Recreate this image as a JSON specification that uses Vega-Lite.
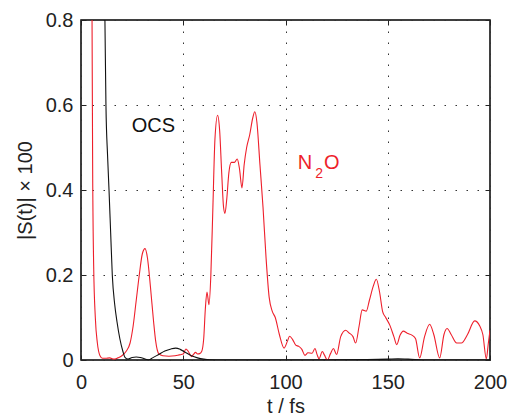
{
  "$schema": "https://vega.github.io/schema/vega-lite/v6.json",
  "autosize": {"type": "none"},
  "width": 409,
  "height": 340,
  "padding": {"left": 81, "top": 20, "right": 18, "bottom": 55},
  "background": "white",
  "config": {
    "view": {"stroke": "black", "strokeWidth": 1.5},
    "font": "Liberation Sans",
    "axis": {
      "domain": false,
      "labelFont": "Liberation Sans",
      "labelFontSize": 20,
      "labelColor": "#222",
      "titleFont": "Liberation Sans",
      "titleFontSize": 20,
      "titleFontWeight": "normal",
      "titleColor": "#222",
      "tickColor": "#222",
      "tickSize": -5,
      "tickWidth": 1,
      "gridColor": "#333",
      "gridDash": [1.5, 9.5],
      "gridWidth": 1,
      "gridOpacity": 1
    }
  },
  "datasets": {
    "curves": [
      {"s": "N2O", "t": 5.0, "v": 1.3},
      {"s": "N2O", "t": 5.4, "v": 0.8},
      {"s": "N2O", "t": 5.7, "v": 0.45},
      {"s": "N2O", "t": 6.2, "v": 0.22},
      {"s": "N2O", "t": 7.0, "v": 0.1},
      {"s": "N2O", "t": 8.0, "v": 0.04},
      {"s": "N2O", "t": 9.3, "v": 0.01},
      {"s": "N2O", "t": 10.5, "v": 0.004},
      {"s": "N2O", "t": 12, "v": 0.004},
      {"s": "N2O", "t": 14, "v": 0.005},
      {"s": "N2O", "t": 16, "v": 0.002},
      {"s": "N2O", "t": 18, "v": 0.005},
      {"s": "N2O", "t": 20, "v": 0.01},
      {"s": "N2O", "t": 22, "v": 0.02},
      {"s": "N2O", "t": 24, "v": 0.04},
      {"s": "N2O", "t": 25.5, "v": 0.08},
      {"s": "N2O", "t": 27, "v": 0.14},
      {"s": "N2O", "t": 28.5, "v": 0.2},
      {"s": "N2O", "t": 30, "v": 0.25},
      {"s": "N2O", "t": 31.3, "v": 0.262},
      {"s": "N2O", "t": 32.5, "v": 0.24},
      {"s": "N2O", "t": 34, "v": 0.17},
      {"s": "N2O", "t": 35.5, "v": 0.09},
      {"s": "N2O", "t": 36.5, "v": 0.045},
      {"s": "N2O", "t": 38, "v": 0.015},
      {"s": "N2O", "t": 40, "v": 0.01},
      {"s": "N2O", "t": 43, "v": 0.009},
      {"s": "N2O", "t": 46, "v": 0.01},
      {"s": "N2O", "t": 48, "v": 0.012},
      {"s": "N2O", "t": 50, "v": 0.014},
      {"s": "N2O", "t": 51.3, "v": 0.026},
      {"s": "N2O", "t": 52.5, "v": 0.02},
      {"s": "N2O", "t": 54, "v": 0.008},
      {"s": "N2O", "t": 55, "v": 0.013},
      {"s": "N2O", "t": 56, "v": 0.018},
      {"s": "N2O", "t": 57, "v": 0.014},
      {"s": "N2O", "t": 58, "v": 0.015},
      {"s": "N2O", "t": 59, "v": 0.02},
      {"s": "N2O", "t": 60, "v": 0.05},
      {"s": "N2O", "t": 60.8, "v": 0.12},
      {"s": "N2O", "t": 61.6, "v": 0.16},
      {"s": "N2O", "t": 62.6, "v": 0.13},
      {"s": "N2O", "t": 63.5, "v": 0.2},
      {"s": "N2O", "t": 64.5, "v": 0.36},
      {"s": "N2O", "t": 65.5, "v": 0.52},
      {"s": "N2O", "t": 66.8, "v": 0.576},
      {"s": "N2O", "t": 67.8, "v": 0.54},
      {"s": "N2O", "t": 68.8, "v": 0.44},
      {"s": "N2O", "t": 69.7, "v": 0.36},
      {"s": "N2O", "t": 70.4, "v": 0.345},
      {"s": "N2O", "t": 71.3, "v": 0.38},
      {"s": "N2O", "t": 72.3, "v": 0.44},
      {"s": "N2O", "t": 73.5, "v": 0.465},
      {"s": "N2O", "t": 75, "v": 0.465},
      {"s": "N2O", "t": 76.4, "v": 0.473},
      {"s": "N2O", "t": 77.5, "v": 0.45},
      {"s": "N2O", "t": 78.7, "v": 0.405},
      {"s": "N2O", "t": 79.8, "v": 0.46},
      {"s": "N2O", "t": 81, "v": 0.5},
      {"s": "N2O", "t": 82.5, "v": 0.53},
      {"s": "N2O", "t": 84, "v": 0.57},
      {"s": "N2O", "t": 85, "v": 0.584},
      {"s": "N2O", "t": 86, "v": 0.56},
      {"s": "N2O", "t": 87.5, "v": 0.46},
      {"s": "N2O", "t": 89, "v": 0.36},
      {"s": "N2O", "t": 90.5, "v": 0.24},
      {"s": "N2O", "t": 92, "v": 0.148},
      {"s": "N2O", "t": 93.5, "v": 0.115},
      {"s": "N2O", "t": 95, "v": 0.1},
      {"s": "N2O", "t": 97, "v": 0.06},
      {"s": "N2O", "t": 99.3, "v": 0.028},
      {"s": "N2O", "t": 101, "v": 0.045},
      {"s": "N2O", "t": 102, "v": 0.056},
      {"s": "N2O", "t": 103.5, "v": 0.048},
      {"s": "N2O", "t": 105, "v": 0.035},
      {"s": "N2O", "t": 106.5, "v": 0.032},
      {"s": "N2O", "t": 108, "v": 0.025},
      {"s": "N2O", "t": 109.5, "v": 0.011},
      {"s": "N2O", "t": 111, "v": 0.017},
      {"s": "N2O", "t": 113, "v": 0.016},
      {"s": "N2O", "t": 114.4, "v": 0.027},
      {"s": "N2O", "t": 115.5, "v": 0.012},
      {"s": "N2O", "t": 116.4, "v": 0.003},
      {"s": "N2O", "t": 118, "v": 0.02},
      {"s": "N2O", "t": 119, "v": 0.012},
      {"s": "N2O", "t": 120.5, "v": 0.0},
      {"s": "N2O", "t": 122, "v": 0.015},
      {"s": "N2O", "t": 123.4, "v": 0.027},
      {"s": "N2O", "t": 125, "v": 0.013},
      {"s": "N2O", "t": 127, "v": 0.055},
      {"s": "N2O", "t": 129.4, "v": 0.07},
      {"s": "N2O", "t": 131, "v": 0.064},
      {"s": "N2O", "t": 133, "v": 0.055},
      {"s": "N2O", "t": 134.3, "v": 0.04},
      {"s": "N2O", "t": 136, "v": 0.08},
      {"s": "N2O", "t": 137.5, "v": 0.118},
      {"s": "N2O", "t": 139.5, "v": 0.115},
      {"s": "N2O", "t": 141, "v": 0.14},
      {"s": "N2O", "t": 143, "v": 0.175},
      {"s": "N2O", "t": 144.4, "v": 0.19},
      {"s": "N2O", "t": 146, "v": 0.16},
      {"s": "N2O", "t": 147.5, "v": 0.114},
      {"s": "N2O", "t": 149, "v": 0.1},
      {"s": "N2O", "t": 151, "v": 0.082},
      {"s": "N2O", "t": 153, "v": 0.055},
      {"s": "N2O", "t": 154.4, "v": 0.036},
      {"s": "N2O", "t": 156, "v": 0.058},
      {"s": "N2O", "t": 157.6, "v": 0.068},
      {"s": "N2O", "t": 159.5, "v": 0.063},
      {"s": "N2O", "t": 162, "v": 0.058},
      {"s": "N2O", "t": 163.6, "v": 0.05},
      {"s": "N2O", "t": 165.6, "v": 0.005},
      {"s": "N2O", "t": 168, "v": 0.055},
      {"s": "N2O", "t": 170.5, "v": 0.084},
      {"s": "N2O", "t": 172.5, "v": 0.06},
      {"s": "N2O", "t": 175.4, "v": 0.005},
      {"s": "N2O", "t": 177.5, "v": 0.06},
      {"s": "N2O", "t": 179, "v": 0.074},
      {"s": "N2O", "t": 181, "v": 0.06},
      {"s": "N2O", "t": 183.7, "v": 0.04},
      {"s": "N2O", "t": 186, "v": 0.04},
      {"s": "N2O", "t": 189, "v": 0.06},
      {"s": "N2O", "t": 192.5, "v": 0.092},
      {"s": "N2O", "t": 195, "v": 0.08},
      {"s": "N2O", "t": 196.5, "v": 0.06},
      {"s": "N2O", "t": 198.2, "v": 0.003},
      {"s": "N2O", "t": 199.2, "v": 0.04},
      {"s": "N2O", "t": 200, "v": 0.07},
      {"s": "OCS", "t": 10, "v": 1.5},
      {"s": "OCS", "t": 11, "v": 1.05},
      {"s": "OCS", "t": 11.7, "v": 0.8},
      {"s": "OCS", "t": 12.2, "v": 0.6},
      {"s": "OCS", "t": 13.0, "v": 0.48},
      {"s": "OCS", "t": 13.7, "v": 0.4},
      {"s": "OCS", "t": 14.5, "v": 0.3},
      {"s": "OCS", "t": 15.3, "v": 0.2},
      {"s": "OCS", "t": 16.5, "v": 0.13},
      {"s": "OCS", "t": 17.6, "v": 0.09},
      {"s": "OCS", "t": 19, "v": 0.05},
      {"s": "OCS", "t": 20.5, "v": 0.02},
      {"s": "OCS", "t": 21.5, "v": 0.006},
      {"s": "OCS", "t": 23, "v": 0.002},
      {"s": "OCS", "t": 25, "v": 0.006},
      {"s": "OCS", "t": 27, "v": 0.007},
      {"s": "OCS", "t": 29, "v": 0.006},
      {"s": "OCS", "t": 31, "v": 0.003},
      {"s": "OCS", "t": 33, "v": 0.0},
      {"s": "OCS", "t": 35, "v": 0.005},
      {"s": "OCS", "t": 38, "v": 0.013},
      {"s": "OCS", "t": 41, "v": 0.021},
      {"s": "OCS", "t": 44, "v": 0.026},
      {"s": "OCS", "t": 46.3, "v": 0.028},
      {"s": "OCS", "t": 48.5, "v": 0.025},
      {"s": "OCS", "t": 51, "v": 0.018},
      {"s": "OCS", "t": 54, "v": 0.01},
      {"s": "OCS", "t": 57, "v": 0.005},
      {"s": "OCS", "t": 60, "v": 0.002},
      {"s": "OCS", "t": 63, "v": 0.0005},
      {"s": "OCS", "t": 70, "v": 0},
      {"s": "OCS", "t": 100, "v": 0},
      {"s": "OCS", "t": 140, "v": 0.001},
      {"s": "OCS", "t": 150, "v": 0.002},
      {"s": "OCS", "t": 155, "v": 0.003},
      {"s": "OCS", "t": 160, "v": 0.002},
      {"s": "OCS", "t": 170, "v": 0},
      {"s": "OCS", "t": 200, "v": 0}
    ],
    "labels": [
      {"t": 35.4, "v": 0.536, "text": "OCS", "c": "OCS", "size": 20},
      {"t": 109.5, "v": 0.449, "text": "N", "c": "N2O", "size": 20},
      {"t": 116.4, "v": 0.428, "text": "2", "c": "N2O", "size": 14},
      {"t": 122.6, "v": 0.449, "text": "O", "c": "N2O", "size": 20}
    ]
  },
  "layer": [
    {
      "data": {"name": "curves"},
      "mark": {"type": "line", "clip": true, "strokeWidth": 1.1, "interpolate": "monotone"},
      "encoding": {
        "x": {
          "field": "t", "type": "quantitative",
          "scale": {"domain": [0, 200], "nice": false},
          "axis": {"title": "t / fs", "values": [0, 50, 100, 150, 200], "grid": true, "labelPadding": 17, "titlePadding": 4, "labelFlush": false}
        },
        "y": {
          "field": "v", "type": "quantitative",
          "scale": {"domain": [0, 0.8], "nice": false},
          "axis": {"title": "|S(t)| × 100", "values": [0, 0.2, 0.4, 0.6, 0.8], "grid": true, "labelPadding": 13, "titlePadding": 10, "labelFlush": false,
                   "labelExpr": "datum.value == 0 ? '0' : format(datum.value, '.1f')"}
        },
        "color": {
          "field": "s", "type": "nominal",
          "scale": {"domain": ["OCS", "N2O"], "range": ["#111111", "#ee1f2b"]},
          "legend": null
        },
        "detail": {"field": "s"}
      }
    },
    {
      "data": {"name": "labels"},
      "mark": {"type": "text", "align": "center", "baseline": "alphabetic", "font": "Liberation Sans"},
      "encoding": {
        "x": {
          "field": "t", "type": "quantitative",
          "scale": {"domain": [0, 200], "nice": false},
          "axis": {"orient": "top", "title": null, "labels": false, "grid": false, "values": [0, 50, 100, 150, 200]}
        },
        "y": {
          "field": "v", "type": "quantitative",
          "scale": {"domain": [0, 0.8], "nice": false},
          "axis": {"orient": "right", "title": null, "labels": false, "grid": false, "values": [0, 0.2, 0.4, 0.6, 0.8]}
        },
        "text": {"field": "text"},
        "size": {"field": "size", "type": "quantitative", "scale": null},
        "color": {
          "field": "c", "type": "nominal",
          "scale": {"domain": ["OCS", "N2O"], "range": ["#111111", "#ee1f2b"]},
          "legend": null
        }
      }
    }
  ],
  "resolve": {"axis": {"x": "independent", "y": "independent"}}
}
